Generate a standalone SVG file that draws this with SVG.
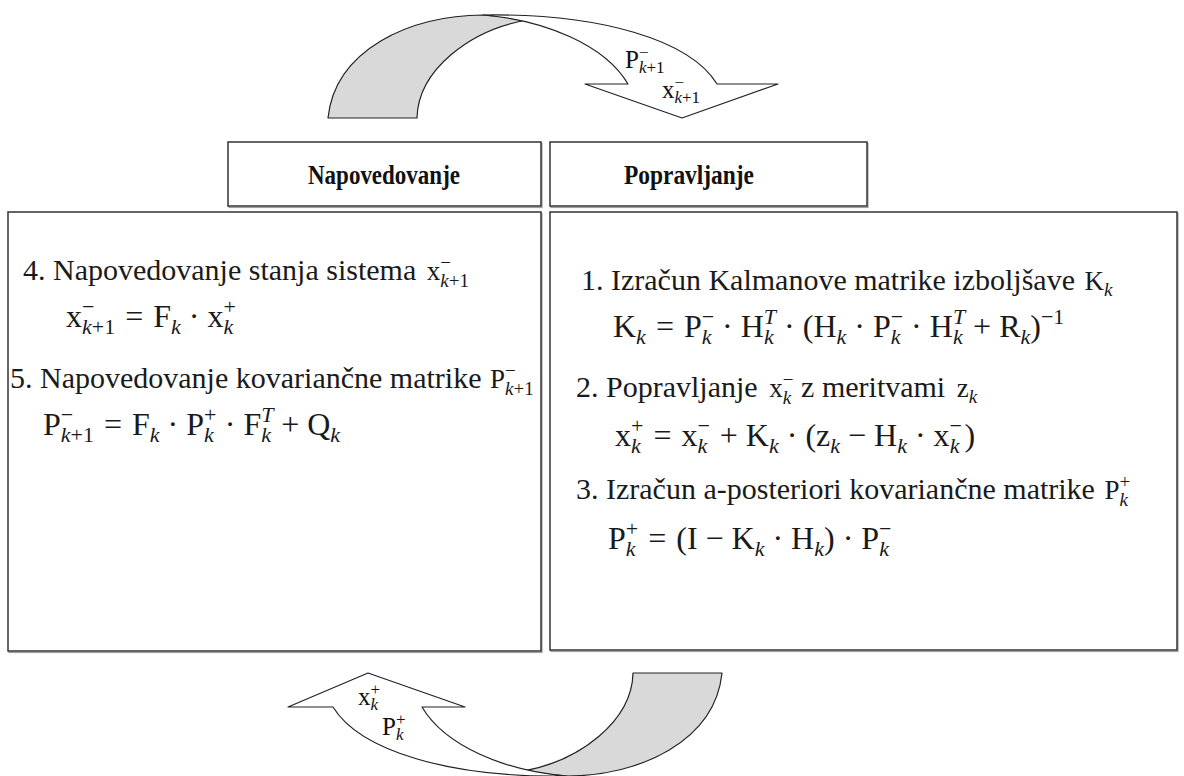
<svg xmlns="http://www.w3.org/2000/svg" width="1184" height="776" viewBox="0 0 1184 776" font-family="'Liberation Serif', 'Times New Roman', 'DejaVu Serif', serif">
<style>
text{font-family:'Liberation Serif','Times New Roman','DejaVu Serif',serif}
.box{fill:#fff;stroke:#333;stroke-width:1.5}
.shd{fill:none;stroke:#a0a0a0;stroke-width:1.2}
.hd{font-weight:bold;font-size:27px;fill:#111}
.t{font-size:30px;fill:#1a1a1a}
.m{font-size:32px;fill:#1a1a1a}
.im{font-size:27px}
.s{font-size:22px}
.ss{font-size:19px}
.i{font-style:italic}
.arw{stroke:#222;stroke-width:1.2;stroke-linejoin:round}
.g{fill:#d9d9d9}
.w{fill:#fff}
.lb{font-size:25px;fill:#111}
.ls{font-size:17px}
</style>
<rect width="1184" height="776" fill="#fff"/>

<g id="connectors">
  <g id="arrow-top">
    <path class="arw g" d="M328,118 C335,50 410,15 483,15 C500,16 512,18 527,20 C470,30 418,70 417,118 Z"/>
    <path class="arw w" d="M483,15 C600,13 690,40 717,84 L778,84 L682,118 L585,84 L628,84 C605,45 545,20 483,15 Z"/>
    <text class="lb" x="625" y="68">P<tspan class="ls" dy="-10">−</tspan><tspan class="ls" dx="-9.6" dy="15"><tspan class="i">k</tspan>+1</tspan></text>
    <text class="lb" x="662" y="98">x<tspan class="ls" dy="-10">−</tspan><tspan class="ls" dx="-9.6" dy="15"><tspan class="i">k</tspan>+1</tspan></text>
  </g>
  <g id="arrow-bottom">
    <path class="arw g" d="M722,673 C715,741 640,776 567,776 C550,775 538,773 523,771 C580,761 632,721 633,673 Z"/>
    <path class="arw w" d="M567,776 C450,778 360,751 333,707 L288,707 L368,673 L465,707 L422,707 C445,746 505,771 567,776 Z"/>
    <text class="lb" x="358" y="705">x<tspan class="ls" dy="-10">+</tspan><tspan class="ls i" dx="-9.6" dy="15">k</tspan></text>
    <text class="lb" x="382" y="735">P<tspan class="ls" dy="-10">+</tspan><tspan class="ls i" dx="-9.6" dy="15">k</tspan></text>
  </g>
</g>

<g id="header-napovedovanje">
  <rect class="shd" x="229" y="143.5" width="313" height="64"/>
  <rect class="box" x="228" y="142" width="313" height="64"/>
  <text class="hd" x="384" y="184" text-anchor="middle" textLength="152" lengthAdjust="spacingAndGlyphs">Napovedovanje</text>
</g>
<g id="header-popravljanje">
  <rect class="shd" x="551" y="143.5" width="317" height="64"/>
  <rect class="box" x="550" y="142" width="317" height="64"/>
  <text class="hd" x="689" y="184" text-anchor="middle" textLength="130" lengthAdjust="spacingAndGlyphs">Popravljanje</text>
</g>

<g id="box-napovedovanje">
  <rect class="shd" x="9" y="213.5" width="533" height="439"/>
  <rect class="box" x="8" y="212" width="533" height="439"/>
  <text class="t" x="23" y="280">4. Napovedovanje stanja sistema <tspan class="im" dx="3">x</tspan><tspan class="ss" dy="-11">−</tspan><tspan class="ss" dx="-10.7" dy="18"><tspan class="i">k</tspan>+1</tspan></text>
  <text class="m" x="66" y="327">x<tspan class="s" dy="-13">−</tspan><tspan class="s" dx="-12.4" dy="20"><tspan class="i">k</tspan>+1</tspan><tspan dx="10" dy="-7">=</tspan><tspan dx="10">F</tspan><tspan class="s i" dy="7">k</tspan><tspan dx="8" dy="-7">·</tspan><tspan dx="8">x</tspan><tspan class="s" dy="-13">+</tspan><tspan class="s i" dx="-12.4" dy="20">k</tspan></text>
  <text class="t" x="10" y="388">5. Napovedovanje kovariančne matrike <tspan class="im" dx="1">P</tspan><tspan class="ss" dy="-11">−</tspan><tspan class="ss" dx="-10.7" dy="18"><tspan class="i">k</tspan>+1</tspan></text>
  <text class="m" x="43" y="435">P<tspan class="s" dy="-13">−</tspan><tspan class="s" dx="-12.4" dy="20"><tspan class="i">k</tspan>+1</tspan><tspan dx="10" dy="-7">=</tspan><tspan dx="10">F</tspan><tspan class="s i" dy="7">k</tspan><tspan dx="8" dy="-7">·</tspan><tspan dx="8">P</tspan><tspan class="s" dy="-13">+</tspan><tspan class="s i" dx="-12.4" dy="20">k</tspan><tspan dx="11" dy="-7">·</tspan><tspan dx="8">F</tspan><tspan class="s i" dy="-13">T</tspan><tspan class="s i" dx="-12.2" dy="20">k</tspan><tspan dx="10" dy="-7">+</tspan><tspan dx="8">Q</tspan><tspan class="s i" dy="7">k</tspan></text>
</g>

<g id="box-popravljanje">
  <rect class="shd" x="551" y="213.5" width="627" height="438"/>
  <rect class="box" x="550" y="212" width="627" height="438"/>
  <text class="t" x="581" y="290">1. Izračun Kalmanove matrike izboljšave <tspan class="im" dx="2">K</tspan><tspan class="ss i" dy="6">k</tspan></text>
  <text class="m" x="613" y="337">K<tspan class="s i" dy="7">k</tspan><tspan dx="10" dy="-7">=</tspan><tspan dx="10">P</tspan><tspan class="s" dy="-13">−</tspan><tspan class="s i" dx="-12.4" dy="20">k</tspan><tspan dx="10.6" dy="-7">·</tspan><tspan dx="8">H</tspan><tspan class="s i" dy="-13">T</tspan><tspan class="s i" dx="-12.2" dy="20">k</tspan><tspan dx="10.4" dy="-7">·</tspan><tspan dx="8">(H</tspan><tspan class="s i" dy="7">k</tspan><tspan dx="8" dy="-7">·</tspan><tspan dx="8">P</tspan><tspan class="s" dy="-13">−</tspan><tspan class="s i" dx="-12.4" dy="20">k</tspan><tspan dx="10.6" dy="-7">·</tspan><tspan dx="8">H</tspan><tspan class="s i" dy="-13">T</tspan><tspan class="s i" dx="-12.2" dy="20">k</tspan><tspan dx="10.4" dy="-7">+</tspan><tspan dx="8">R</tspan><tspan class="s i" dy="7">k</tspan><tspan dy="-7">)</tspan><tspan class="s" dy="-13">−1</tspan></text>
  <text class="t" x="576" y="397">2. Popravljanje <tspan class="im" dx="4">x</tspan><tspan class="ss" dy="-11">−</tspan><tspan class="ss i" dx="-10.7" dy="18">k</tspan><tspan dx="10" dy="-7">z meritvami </tspan><tspan class="im" dx="4">z</tspan><tspan class="ss i" dy="6">k</tspan></text>
  <text class="m" x="615" y="446">x<tspan class="s" dy="-13">+</tspan><tspan class="s i" dx="-12.4" dy="20">k</tspan><tspan dx="12.6" dy="-7">=</tspan><tspan dx="10">x</tspan><tspan class="s" dy="-13">−</tspan><tspan class="s i" dx="-12.4" dy="20">k</tspan><tspan dx="12.6" dy="-7">+</tspan><tspan dx="8">K</tspan><tspan class="s i" dy="7">k</tspan><tspan dx="8" dy="-7">·</tspan><tspan dx="8">(z</tspan><tspan class="s i" dy="7">k</tspan><tspan dx="8" dy="-7">−</tspan><tspan dx="8">H</tspan><tspan class="s i" dy="7">k</tspan><tspan dx="8" dy="-7">·</tspan><tspan dx="8">x</tspan><tspan class="s" dy="-13">−</tspan><tspan class="s i" dx="-12.4" dy="20">k</tspan><tspan dx="5" dy="-7">)</tspan></text>
  <text class="t" x="576" y="499">3. Izračun a-posteriori kovariančne matrike <tspan class="im" dx="2">P</tspan><tspan class="ss" dy="-11">+</tspan><tspan class="ss i" dx="-10.7" dy="18">k</tspan></text>
  <text class="m" x="608" y="549">P<tspan class="s" dy="-13">+</tspan><tspan class="s i" dx="-12.4" dy="20">k</tspan><tspan dx="12.6" dy="-7">=</tspan><tspan dx="10">(I</tspan><tspan dx="8">−</tspan><tspan dx="8">K</tspan><tspan class="s i" dy="7">k</tspan><tspan dx="8" dy="-7">·</tspan><tspan dx="8">H</tspan><tspan class="s i" dy="7">k</tspan><tspan dy="-7">)</tspan><tspan dx="8">·</tspan><tspan dx="8">P</tspan><tspan class="s" dy="-13">−</tspan><tspan class="s i" dx="-12.4" dy="20">k</tspan></text>
</g>
</svg>
